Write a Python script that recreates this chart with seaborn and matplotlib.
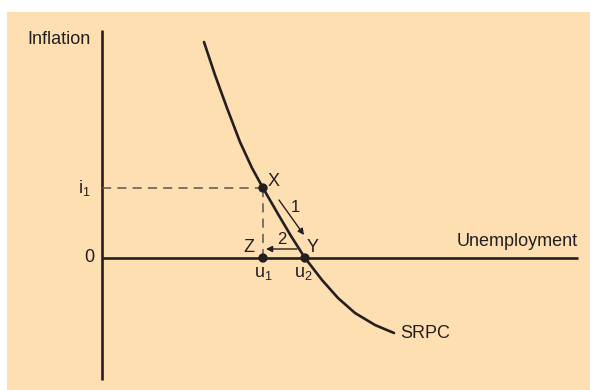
import matplotlib
matplotlib.use("Agg")
import matplotlib.pyplot as plt
import seaborn as sns
import pandas as pd
from matplotlib.patches import Rectangle

# short-run Phillips curve (unemployment, inflation)
curve_u = [102, 113, 125, 138, 150, 161, 176, 189, 203, 220, 236, 253, 273, 292]
curve_infl = [216, 183, 150, 116, 90, 70, 44, 22, 0, -22, -40, -55, -67, -75]

point_names = ["X", "Z", "Y"]
point_u = [161, 161, 203]
point_infl = [70, 0, 0]

i1 = 70
u1 = 161
u2 = 203

sns.set_theme(style="white")
plt.rcParams["font.family"] = ["Liberation Sans", "DejaVu Sans"]
plt.rcParams["mathtext.fontset"] = "custom"
plt.rcParams["mathtext.rm"] = "Liberation Sans"

ink = "#231f20"
peach = "#fedfb2"

fig = plt.figure(figsize=(5.9, 3.9), dpi=100)
fig.patch.set_facecolor("white")
ax = fig.add_axes([0, 0, 1, 1])
ax.set_facecolor("none")
ax.add_patch(Rectangle((7 / 590, 0), 1, 378 / 390, transform=ax.transAxes,
                       facecolor=peach, edgecolor="none", zorder=0, clip_on=False))
ax.set_xlim(-102, 488)
ax.set_ylim(-132, 258)
ax.axis("off")

# axes
ax.plot([0, 0], [228, -122], color=ink, lw=1.9, solid_capstyle="butt")
ax.plot([0, 476], [0, 0], color=ink, lw=1.9, solid_capstyle="butt")

# dashed guides
ax.plot([0, u1], [i1, i1], color="#5a5553", lw=1.1, dashes=(6, 4))
ax.plot([u1, u1], [i1, 0], color="#5a5553", lw=1.1, dashes=(6, 4))

df = pd.DataFrame({"u": curve_u, "infl": curve_infl})
sns.lineplot(data=df, x="u", y="infl", sort=False, color=ink, lw=1.9, ax=ax)
ax.lines[-1].set_solid_joinstyle("round")

pts = pd.DataFrame({"name": point_names, "u": point_u, "infl": point_infl})
sns.scatterplot(data=pts, x="u", y="infl", color=ink, s=45, edgecolor="none",
                zorder=5, ax=ax)
ax.set_xlim(-102, 488)
ax.set_ylim(-132, 258)

# arrows
ax.annotate("", xy=(202, 23), xytext=(177, 58),
            arrowprops=dict(arrowstyle="-|>", color=ink, lw=1.0,
                            mutation_scale=9, shrinkA=0, shrinkB=0))
ax.annotate("", xy=(164, 9), xytext=(195, 9),
            arrowprops=dict(arrowstyle="-|>", color=ink, lw=1.0,
                            mutation_scale=9, shrinkA=0, shrinkB=0))

fs = 13
ax.text(-11, 219, "Inflation", ha="right", va="center", fontsize=fs, color=ink)
ax.text(476, 16, "Unemployment", ha="right", va="center", fontsize=fs, color=ink)
ax.text(298, -75, "SRPC", ha="left", va="center", fontsize=fs, color=ink)
ax.text(-11, i1, r"$\mathregular{i_1}$", ha="right", va="center", fontsize=fs, color=ink)
ax.text(-8, 0, "0", ha="right", va="center", fontsize=fs, color=ink)
ax.text(u1, -15, r"$\mathregular{u_1}$", ha="center", va="center", fontsize=fs, color=ink)
ax.text(u2 - 2, -15, r"$\mathregular{u_2}$", ha="center", va="center", fontsize=fs, color=ink)
ax.text(166, 76, "X", ha="left", va="center", fontsize=fs, color=ink)
ax.text(153, 11, "Z", ha="right", va="center", fontsize=fs, color=ink)
ax.text(205, 11, "Y", ha="left", va="center", fontsize=fs, color=ink)
ax.text(193, 51, "1", ha="center", va="center", fontsize=fs - 1, color=ink)
ax.text(180, 18, "2", ha="center", va="center", fontsize=fs - 1, color=ink)

fig.savefig("out.png", dpi=100, facecolor=fig.get_facecolor())
